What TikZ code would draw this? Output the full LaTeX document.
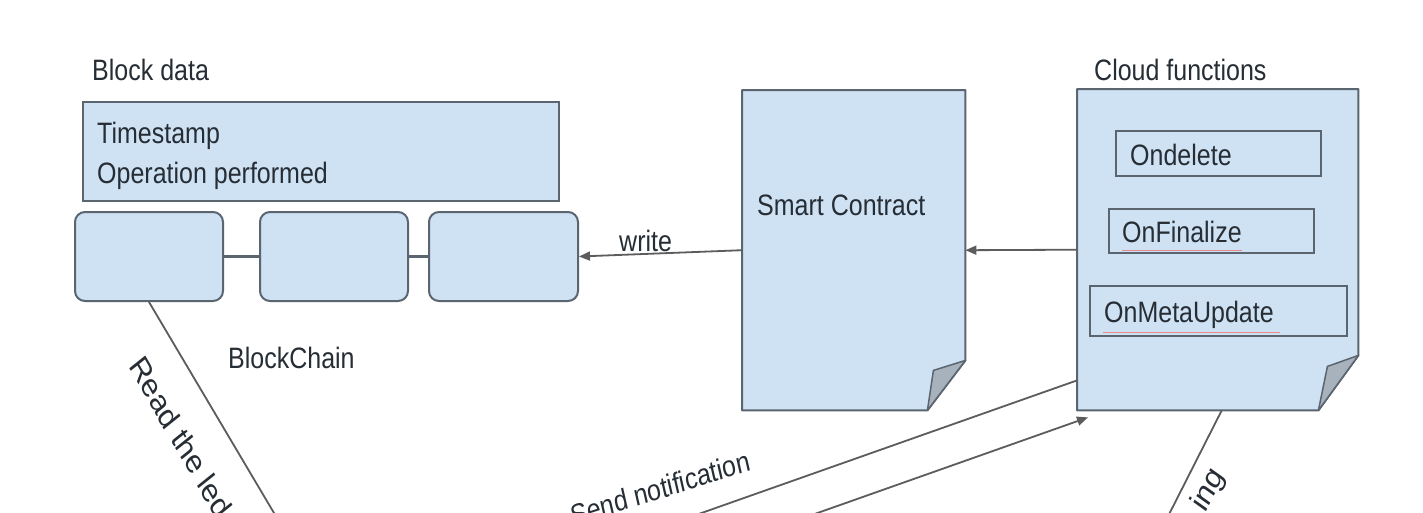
\documentclass[tikz,border=0pt]{standalone}
\usepackage{fontspec}
\setmainfont{Liberation Sans}
\usetikzlibrary{arrows.meta}
\definecolor{fillblue}{HTML}{CFE2F3}
\definecolor{edgec}{HTML}{5B6570}
\definecolor{linec}{HTML}{5C5C5C}
\definecolor{txtc}{HTML}{262D35}
\definecolor{foldc}{HTML}{A7B2BC}
\begin{document}
\begin{tikzpicture}[x=1pt,y=-1pt,
  txt/.style={font=\fontsize{25}{30}\selectfont, text=txtc, inner sep=0pt, yscale=1.18},
  bigtxt/.style={txt, font=\fontsize{28}{33}\selectfont},
  panel/.style={draw=edgec, line width=2pt, fill=fillblue, inner sep=0pt, anchor=north west},
  blk/.style={panel, rounded corners=10pt},
  fnbox/.style={draw=edgec, line width=1.6pt, fill=fillblue, inner sep=0pt, anchor=north west},
  docframe/.style={inner sep=0pt, anchor=north west},
  docline/.style={draw=edgec, line width=2pt, fill=fillblue, line join=round},
  foldst/.style={draw=edgec, line width=1.5pt, fill=foldc, line join=round},
  conn/.style={draw=linec, line width=1.8pt},
  link/.style={draw=edgec, line width=2.6pt},
  arr/.style={conn, -{Triangle[length=11pt,width=9pt]}},
  squiggle/.style={draw=red!75, line width=0.8pt, opacity=0.55}
]
\useasboundingbox (0,0) rectangle (1423,512);
\clip (0,0) rectangle (1423,512);
\fill[white] (0,0) rectangle (1423,512);

% Block data
\node[txt, anchor=base west] (bdlabel) at (92,80) {Block data};
\node[panel, minimum width=476pt, minimum height=99pt] (bdata) at (82,101) {};
\node[txt, anchor=base west] (ts) at (97,143) {Timestamp};
\node[txt, anchor=base west] (op) at (97,183) {Operation performed};

% Blockchain blocks
\node[blk, minimum width=148pt, minimum height=89pt] (b1) at (74,211) {};
\node[blk, minimum width=148pt, minimum height=89pt] (b2) at (259,211) {};
\node[blk, minimum width=149pt, minimum height=89pt] (b3) at (428,211) {};
\draw[link] (b1) -- (b2);
\draw[link] (b2) -- (b3);
\node[txt, anchor=base west] (bclabel) at (228,368) {BlockChain};

% Smart contract document
\node[docframe, minimum width=223pt, minimum height=320pt] (sc) at (742,90) {};
\path[docline] (sc.north west) -- (sc.north east) -- ([yshift=50pt]sc.south east)
  -- ([xshift=-38pt]sc.south east) -- (sc.south west) -- cycle;
\path[foldst] ([xshift=-38pt]sc.south east) -- ([yshift=50pt]sc.south east)
  -- ([xshift=-32pt,yshift=40pt]sc.south east) -- cycle;
\node[txt, anchor=base west] (sctext) at (757,215) {Smart Contract};

% Cloud functions document
\node[txt, anchor=base west] (cflabel) at (1094,80) {Cloud functions};
\node[docframe, minimum width=281pt, minimum height=321pt] (cf) at (1077,89) {};
\path[docline] (cf.north west) -- (cf.north east) -- ([yshift=55pt]cf.south east)
  -- ([xshift=-40pt]cf.south east) -- (cf.south west) -- cycle;
\path[foldst] ([xshift=-40pt]cf.south east) -- ([yshift=55pt]cf.south east)
  -- ([xshift=-31pt,yshift=44pt]cf.south east) -- cycle;

\node[fnbox, minimum width=205pt, minimum height=45pt] (f1) at (1115,130) {};
\node[txt, anchor=base west] (f1t) at (1130,165) {Ondelete};
\node[fnbox, minimum width=205pt, minimum height=44pt] (f2) at (1108,208) {};
\node[txt, anchor=base west] (f2t) at (1122,242) {OnFinalize};
\node[fnbox, minimum width=257pt, minimum height=50pt] (f3) at (1089,285) {};
\node[txt, anchor=base west] (f3t) at (1104,322) {OnMetaUpdate};
\draw[squiggle] (1122,250) -- (1242,250);
\draw[squiggle] (1103,332) -- (1280,332);

% Connectors
\draw[arr] (sc.west) -- (b3.east);
\node[txt, anchor=base west] (wl) at (619,251) {write};
\draw[arr] (cf.west) -- (sc.east);

\coordinate (rdend) at (290,540);
\draw[conn] (b1.south) -- (rdend);
\node[bigtxt, anchor=base west, rotate=-55.8] (rdl) at (128,366) {Read the led};

\coordinate (sn1) at (625,540);
\coordinate (sn2) at (741,540);
\draw[conn] (sn1) -- ([yshift=30pt]cf.south west);
\draw[arr] (sn2) -- ([xshift=11pt,yshift=-7pt]cf.south west);
\node[txt, anchor=base east, rotate=15] (snl) at (752,470) {Send notification};

\coordinate (rgend) at (1156,540);
\draw[conn] ([xshift=4pt]cf.south) -- (rgend);
\node[bigtxt, anchor=base east, rotate=58.9] (rgl) at (1225,476) {ing};
\end{tikzpicture}
\end{document}
